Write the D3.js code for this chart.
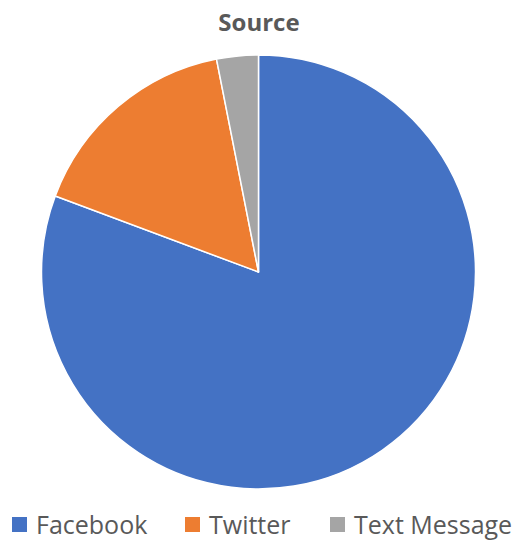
<!DOCTYPE html>
<html>
<head>
<meta charset="utf-8">
<script src="https://cdn.jsdelivr.net/npm/d3@7"></script>
<style>
  html, body { margin: 0; padding: 0; background: #fff; }
  svg { display: block; font-family: "Open Sans", "Noto Sans", sans-serif; }
</style>
</head>
<body>
<svg id="chart" width="518" height="544"></svg>
<script>
// Share of responses by source (percent)
const categories = ["Facebook", "Twitter", "Text Message"];
const values = [80.7, 16.2, 3.1];
const colors = ["#4472C4", "#ED7D31", "#A5A5A5"];

const svg = d3.select("#chart");
const width = 518;
const cx = 258.5, cy = 272, radius = 217;

svg.append("text")
  .attr("x", width / 2)
  .attr("y", 31)
  .attr("text-anchor", "middle")
  .attr("font-size", 24)
  .attr("font-weight", "bold")
  .attr("fill", "#595959")
  .text("Source");

const color = d3.scaleOrdinal().domain(categories).range(colors);
const data = categories.map((c, i) => ({ name: c, value: values[i] }));
const pie = d3.pie().sort(null).value(d => d.value);
const arc = d3.arc().innerRadius(0).outerRadius(radius);

svg.append("g")
  .attr("transform", `translate(${cx},${cy})`)
  .selectAll("path")
  .data(pie(data))
  .join("path")
  .attr("d", arc)
  .attr("fill", d => color(d.data.name))
  .attr("stroke", "#fff")
  .attr("stroke-width", 1.5)
  .attr("stroke-linejoin", "round");

// Legend row along the bottom
const legendX = [12, 185, 330];
const legend = svg.append("g").attr("transform", "translate(0,517)");
const item = legend.selectAll("g")
  .data(categories)
  .join("g")
  .attr("transform", (d, i) => `translate(${legendX[i]},0)`);
item.append("rect")
  .attr("width", 15).attr("height", 15)
  .attr("fill", d => color(d));
item.append("text")
  .attr("x", 24)
  .attr("y", 17)
  .attr("font-size", 25)
  .attr("fill", "#595959")
  .text(d => d);
</script>
</body>
</html>
